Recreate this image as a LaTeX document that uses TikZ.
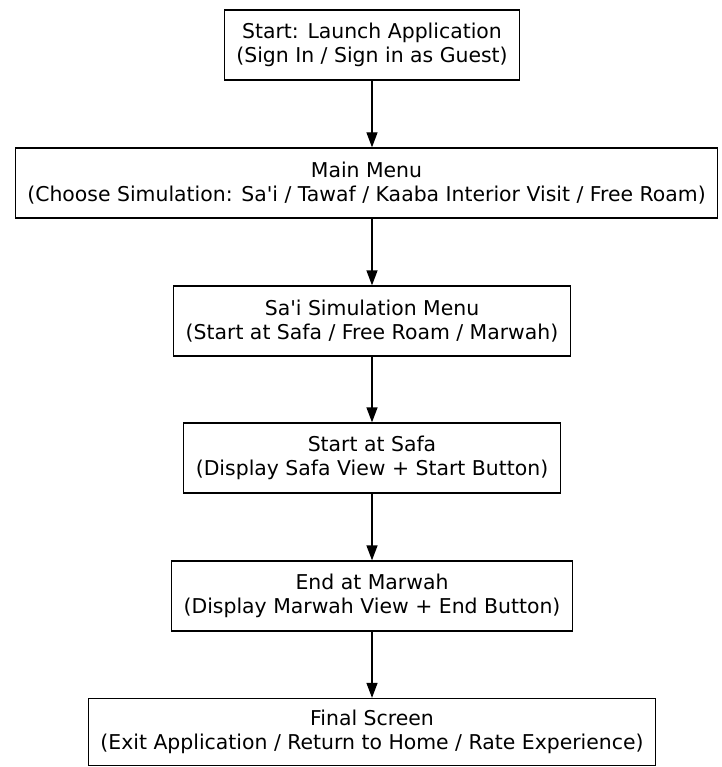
\documentclass[tikz,border=0pt]{standalone}
\usepackage{fontspec}
\newfontfamily\dvs{DejaVu Sans}
\usetikzlibrary{arrows.meta}
\begin{document}
\begin{tikzpicture}[x=1pt,y=-1pt,
  box/.style={draw=black, line width=1.3pt, fill=white, minimum height=70pt,
    inner xsep=12pt, inner ysep=0pt, align=center,
    font=\dvs\fontsize{20.4}{24.5}\selectfont},
  arr/.style={line width=1.3pt, -{Triangle[length=15pt,width=11pt]}}]
\fill[white] (0,0) rectangle (721,767);
\useasboundingbox (0,0) rectangle (721,767);
\node[box] (start) at (372,45) {Start: Launch Application\\(Sign In / Sign in as Guest)};
\node[box] (main) at (366.5,183) {Main Menu\\(Choose Simulation: Sa'i / Tawaf / Kaaba Interior Visit / Free Roam)};
\node[box] (sai) at (372,321) {Sa'i Simulation Menu\\(Start at Safa / Free Roam / Marwah)};
\node[box] (safa) at (372,458) {Start at Safa\\(Display Safa View + Start Button)};
\node[box] (marwah) at (372,596) {End at Marwah\\(Display Marwah View + End Button)};
\node[box, minimum height=67pt] (final) at (372,732) {Final Screen\\(Exit Application / Return to Home / Rate Experience)};
\draw[arr] (start.south) -- (start.south |- main.north);
\draw[arr] (start.south |- main.south) -- (sai.north);
\draw[arr] (sai.south) -- (safa.north);
\draw[arr] (safa.south) -- (marwah.north);
\draw[arr] (marwah.south) -- (final.north);
\end{tikzpicture}
\end{document}
